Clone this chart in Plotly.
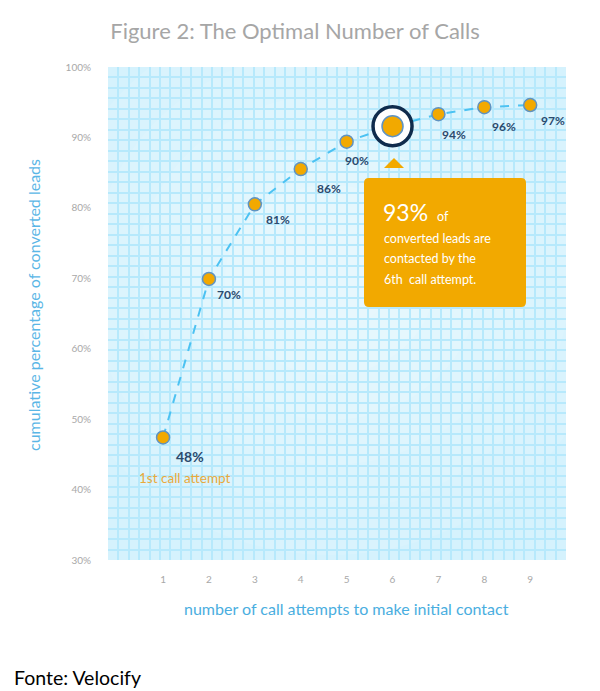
import plotly.graph_objects as go

# data
attempts = [1, 2, 3, 4, 5, 6, 7, 8, 9]
cum_pct = [47.4, 69.9, 80.5, 85.5, 89.4, 91.6, 93.3, 94.3, 94.6]
pct_labels = ['48%', '70%', '81%', '86%', '90%', '', '94%', '96%', '97%']
y_ticks = [30, 40, 50, 60, 70, 80, 90, 100]
highlight = 6

W, H = 600, 691
L, R, T, B = 108, 566, 67, 560


def px(x):
    return (x - L) / (R - L)


def py(y):
    return (B - y) / (B - T)


fig = go.Figure()

# dashed line + markers
fig.add_trace(go.Scatter(
    x=attempts, y=cum_pct, mode='lines',
    line=dict(color='#4cc2f2', width=2, dash='dash'),
    hoverinfo='skip', showlegend=False
))
i6 = attempts.index(highlight)
fig.add_trace(go.Scatter(
    x=[attempts[i6]], y=[cum_pct[i6]], mode='markers',
    marker=dict(size=39, color='white', opacity=1, line=dict(color='#0f2b4c', width=3.5)),
    hoverinfo='skip', showlegend=False
))
sizes = [21 if a == highlight else 13 for a in attempts]
fig.add_trace(go.Scatter(
    x=attempts, y=cum_pct, mode='markers',
    marker=dict(size=sizes, color='#f2a900', opacity=1, line=dict(color='#5f93c2', width=1.5)),
    showlegend=False
))

# point labels (offsets in px)
offsets = [(27, -19), (20, -16), (23, -15), (28, -19), (10, -19), (0, 0), (16, -20), (20, -19), (23, -15)]
for a, v, lab, (dx, dy) in zip(attempts, cum_pct, pct_labels, offsets):
    if not lab:
        continue
    fig.add_annotation(
        x=a, y=v, text=lab, showarrow=False, xshift=dx, yshift=dy,
        font=dict(family='Lato', size=14 if a == 1 else 12, color='#2b4a6e', weight='bold')
    )
fig.add_annotation(
    x=attempts[0], y=cum_pct[0], text='1st call attempt', showarrow=False,
    xshift=21, yshift=-41, font=dict(family='Lato', size=13.5, color='#e9a93b')
)

# soft lighter centre of background
shapes = []
for k in range(6):
    rx, ry = 60 + k * 45, 50 + k * 45
    shapes.append(dict(
        type='circle', xref='paper', yref='paper', layer='below',
        x0=px(330 - rx), x1=px(330 + rx), y0=py(280 + ry), y1=py(280 - ry),
        fillcolor='white', opacity=0.1, line=dict(width=0)
    ))

# callout box with rounded corners
x0, x1, y0, y1, r = 364, 526, 178, 307, 5
path = (f'M {px(x0 + r)},{py(y0)} L {px(x1 - r)},{py(y0)} Q {px(x1)},{py(y0)} {px(x1)},{py(y0 + r)} '
        f'L {px(x1)},{py(y1 - r)} Q {px(x1)},{py(y1)} {px(x1 - r)},{py(y1)} '
        f'L {px(x0 + r)},{py(y1)} Q {px(x0)},{py(y1)} {px(x0)},{py(y1 - r)} '
        f'L {px(x0)},{py(y0 + r)} Q {px(x0)},{py(y0)} {px(x0 + r)},{py(y0)} Z')
shapes.append(dict(type='path', xref='paper', yref='paper', path=path,
                   fillcolor='#f2a900', line=dict(width=0)))
tri = f'M {px(384)},{py(168)} L {px(404)},{py(168)} L {px(394)},{py(158)} Z'
shapes.append(dict(type='path', xref='paper', yref='paper', path=tri,
                   fillcolor='#f2a900', line=dict(width=0)))

callout = [('93%', 381, 212, 23), ('of', 435, 217, 12.5),
           ('converted leads are', 382, 238, 12.5),
           ('contacted by the', 382, 258, 12.5),
           ('6th  call attempt.', 382, 279, 12.5)]
for txt, x, y, s in callout:
    fig.add_annotation(x=px(x), y=py(y), xref='paper', yref='paper', text=txt,
                       showarrow=False, xanchor='left', yanchor='middle',
                       font=dict(family='Lato', size=s, color='white'))

# axis titles + source
fig.add_annotation(x=px(33), y=py(305), xref='paper', yref='paper',
                   xanchor='center', yanchor='middle',
                   text='cumulative percentage of converted leads', textangle=-90,
                   showarrow=False, font=dict(family='Lato', size=16, color='#5ab6e6'))
fig.add_annotation(x=px(346), y=py(608), xref='paper', yref='paper',
                   xanchor='center', yanchor='middle',
                   text='number of call attempts to make initial contact',
                   showarrow=False, font=dict(family='Lato', size=16, color='#4aaee0'))
fig.add_annotation(x=px(12), y=py(677), xref='paper', yref='paper',
                   xanchor='left', yanchor='middle',
                   text='Fonte: Velocify', showarrow=False,
                   font=dict(family='Lato', size=19.5, color='black'))

fig.update_layout(
    width=W, height=H,
    margin=dict(l=L, r=W - R, t=T, b=H - B),
    paper_bgcolor='white', plot_bgcolor='#d5f2fd',
    title=dict(text='Figure 2: The Optimal Number of Calls', x=295 / W, y=1 - 31 / H,
               xanchor='center', yanchor='middle',
               font=dict(family='Lato', size=22, color='#a6a6a6')),
    shapes=shapes,
    xaxis=dict(range=[-0.2, 9.78], tickvals=attempts, showgrid=False, zeroline=False,
               ticks='', ticklabelstandoff=12,
               tickfont=dict(family='Lato', size=10, color='#a8a8a8'),
               minor=dict(dtick=0.2268, tick0=-0.2, showgrid=True,
                          gridcolor='#b7e9fc', gridwidth=1.5)),
    yaxis=dict(range=[30, 100], tickvals=y_ticks, ticktext=[f'{t}%' for t in y_ticks],
               showgrid=False, zeroline=False, ticks='', ticklabelstandoff=16,
               tickfont=dict(family='Lato', size=10, color='#a8a8a8'),
               minor=dict(dtick=70 / 47, tick0=30, showgrid=True,
                          gridcolor='#b7e9fc', gridwidth=1.5)),
)

fig.write_html('out.html', config={'displayModeBar': False},
               post_script="document.body.style.margin='0';")
